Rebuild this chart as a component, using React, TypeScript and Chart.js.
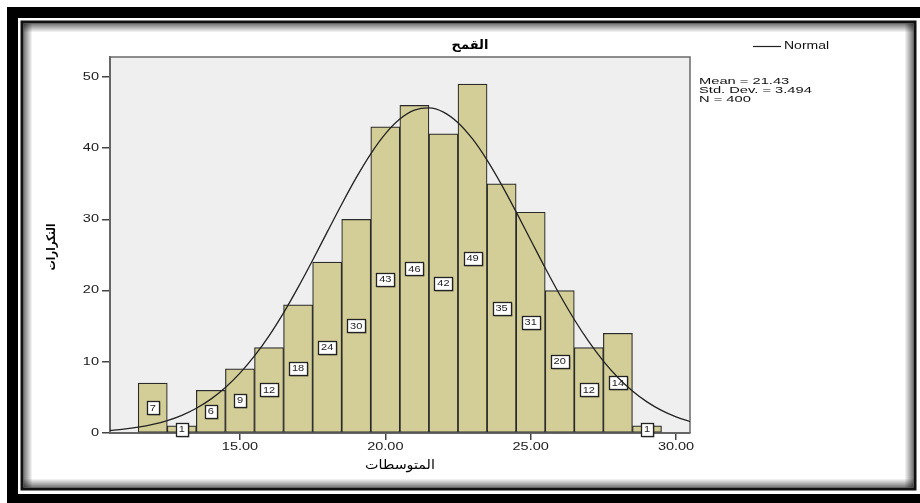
import React, { useEffect, useRef } from 'react';
import { Chart, registerables } from 'chart.js';

Chart.register(...registerables);

// ---- data ----
const binCenters = [12, 13, 14, 15, 16, 17, 18, 19, 20, 21, 22, 23, 24, 25, 26, 27, 28, 29];
const frequencies = [7, 1, 6, 9, 12, 18, 24, 30, 43, 46, 42, 49, 35, 31, 20, 12, 14, 1];
const curveX = [
  10.5, 11, 11.5, 12, 12.5, 13, 13.5, 14, 14.5, 15, 15.5, 16, 16.5, 17, 17.5, 18, 18.5, 19, 19.5, 20, 20.5,
  21, 21.5, 22, 22.5, 23, 23.5, 24, 24.5, 25, 25.5, 26, 26.5, 27, 27.5, 28, 28.5, 29, 29.5, 30, 30.5,
];
const curveY = [
  0.34, 0.53, 0.81, 1.2, 1.74, 2.48, 3.48, 4.76, 6.39, 8.4, 10.82, 13.65, 16.88, 20.45, 24.26, 28.21, 32.13,
  35.86, 39.21, 42.0, 44.08, 45.33, 45.66, 45.07, 43.58, 41.29, 38.32, 34.85, 31.05, 27.1, 23.17, 19.41,
  15.94, 12.82, 10.1, 7.8, 5.9, 4.37, 3.17, 2.26, 1.57,
];
const xTickValues = [15, 20, 25, 30];
const yTickValues = [0, 10, 20, 30, 40, 50];
const chartTitle = 'القمح';
const xAxisTitle = 'المتوسطات';
const yAxisTitle = 'التكرارات';
const legendLabel = 'Normal';
const statsLines = ['Mean = 21.43', 'Std. Dev. = 3.494', 'N = 400'];

const X_MIN = 10.53;
const X_MAX = 30.48;
const Y_MIN = 0;
const Y_MAX = 52.8;

const LATIN = '"Liberation Sans", Arial, sans-serif';
const ARABIC = '"DejaVu Sans", sans-serif';

function sText(
  ctx: CanvasRenderingContext2D,
  text: string,
  x: number,
  y: number,
  font: string,
  align: CanvasTextAlign,
  sx: number,
  color = '#222',
  rot = 0
) {
  ctx.save();
  ctx.font = font;
  ctx.fillStyle = color;
  ctx.textBaseline = 'middle';
  ctx.textAlign = align;
  ctx.translate(x, y);
  if (rot) ctx.rotate(rot);
  ctx.scale(sx, 1);
  ctx.fillText(text, 0, 0);
  ctx.restore();
}

const framePlugin = {
  id: 'frame',
  beforeDraw(chart: any) {
    const ctx: CanvasRenderingContext2D = chart.ctx;
    const W = chart.width;
    const H = chart.height;
    ctx.save();
    ctx.fillStyle = '#ffffff';
    ctx.fillRect(0, 0, W, H);
    // outer black band
    ctx.fillStyle = '#000';
    ctx.fillRect(7, 7, W - 7, 11);
    ctx.fillRect(7, 7, 11, H - 7);
    ctx.fillRect(7, 494, W - 7, H - 494);
    // inner shadow
    const L = 23.5, T = 23.5, R = 913.5, B = 487.5, s = 9;
    let g = ctx.createLinearGradient(0, T, 0, T + s);
    g.addColorStop(0, 'rgba(0,0,0,0.55)');
    g.addColorStop(1, 'rgba(0,0,0,0)');
    ctx.fillStyle = g;
    ctx.fillRect(L, T, R - L, s);
    g = ctx.createLinearGradient(L, 0, L + s, 0);
    g.addColorStop(0, 'rgba(0,0,0,0.55)');
    g.addColorStop(1, 'rgba(0,0,0,0)');
    ctx.fillStyle = g;
    ctx.fillRect(L, T, s, B - T);
    g = ctx.createLinearGradient(R, 0, R - s, 0);
    g.addColorStop(0, 'rgba(0,0,0,0.55)');
    g.addColorStop(1, 'rgba(0,0,0,0)');
    ctx.fillStyle = g;
    ctx.fillRect(R - s, T, s, B - T);
    g = ctx.createLinearGradient(0, B, 0, B - s);
    g.addColorStop(0, 'rgba(0,0,0,0.55)');
    g.addColorStop(1, 'rgba(0,0,0,0)');
    ctx.fillStyle = g;
    ctx.fillRect(L, B - s, R - L, s);
    // inner dark line
    ctx.strokeStyle = '#111';
    ctx.lineWidth = 3;
    ctx.strokeRect(22, 22, 893, 467);
    // plot background
    const a = chart.chartArea;
    ctx.fillStyle = '#efefef';
    ctx.fillRect(a.left, a.top, a.right - a.left, a.bottom - a.top);
    ctx.restore();
  },
  beforeDatasetsDraw(chart: any) {
    const ctx: CanvasRenderingContext2D = chart.ctx;
    const a = chart.chartArea;
    ctx.save();
    ctx.strokeStyle = '#6a6a6a';
    ctx.lineWidth = 1.5;
    ctx.beginPath();
    ctx.moveTo(a.left, a.top);
    ctx.lineTo(a.right, a.top);
    ctx.lineTo(a.right, a.bottom);
    ctx.stroke();
    ctx.restore();
  },
  afterDatasetDraw(chart: any, args: any) {
    if (args.meta.type !== 'bar') return;
    const ctx: CanvasRenderingContext2D = chart.ctx;
    const ds = chart.data.datasets[args.index];
    args.meta.data.forEach((el: any, i: number) => {
      const { x, y, base } = el.getProps(['x', 'y', 'base'], true);
      const cy = (y + base) / 2;
      const txt = String(ds.data[i].y);
      ctx.save();
      ctx.font = `8.5px ${LATIN}`;
      const tw = ctx.measureText(txt).width * 1.3;
      const w = Math.round(tw + 6);
      const h = 13;
      const bx = Math.round(x - w / 2) + 0.5;
      const by = Math.round(cy - h / 2) + 0.5;
      ctx.fillStyle = 'rgba(0,0,0,0.3)';
      ctx.fillRect(bx + 1, by + 1, w, h);
      ctx.fillStyle = '#ffffff';
      ctx.fillRect(bx, by, w, h);
      ctx.strokeStyle = '#222';
      ctx.lineWidth = 1.3;
      ctx.strokeRect(bx, by, w, h);
      ctx.restore();
      sText(ctx, txt, x, cy + 0.5, `8.5px ${LATIN}`, 'center', 1.3, '#222');
    });
  },
  afterDraw(chart: any) {
    const ctx: CanvasRenderingContext2D = chart.ctx;
    const xs = chart.scales.x;
    const ys = chart.scales.y;
    // tick labels
    ys.ticks.forEach((t: any) => {
      sText(ctx, String(t.value), 99, ys.getPixelForValue(t.value), `10px ${LATIN}`, 'right', 1.45, '#1a1a1a');
    });
    xs.ticks.forEach((t: any) => {
      sText(ctx, t.value.toFixed(2), xs.getPixelForValue(t.value), 447, `10px ${LATIN}`, 'center', 1.45, '#1a1a1a');
    });
    // titles
    sText(ctx, chartTitle, 470, 46, `bold 13px ${ARABIC}`, 'center', 1, '#000');
    sText(ctx, xAxisTitle, 400, 466, `13px ${ARABIC}`, 'center', 1.1, '#000');
    sText(ctx, yAxisTitle, 52, 247, `bold 12px ${ARABIC}`, 'center', 0.85, '#000', -Math.PI / 2);
    // legend
    ctx.save();
    ctx.strokeStyle = '#222';
    ctx.lineWidth = 1.2;
    ctx.beginPath();
    ctx.moveTo(753, 46.5);
    ctx.lineTo(781, 46.5);
    ctx.stroke();
    ctx.restore();
    sText(ctx, legendLabel, 784, 46, `10px ${LATIN}`, 'left', 1.4, '#111');
    statsLines.forEach((line, i) => {
      sText(ctx, line, 699, 81.5 + i * 8.7, `9.8px ${LATIN}`, 'left', 1.5, '#111');
    });
  },
};

export default function App() {
  const ref = useRef<HTMLCanvasElement | null>(null);
  useEffect(() => {
    document.body.style.margin = '0';
    const canvas = ref.current!;
    const chart = new Chart(canvas, {
      type: 'bar',
      data: {
        datasets: [
          {
            type: 'line',
            label: legendLabel,
            data: curveX.map((x, i) => ({ x, y: curveY[i] })),
            borderColor: '#222',
            borderWidth: 1.3,
            pointRadius: 0,
            fill: false,
            cubicInterpolationMode: 'monotone',
            order: 0,
          } as any,
          {
            type: 'bar',
            label: 'freq',
            data: binCenters.map((x, i) => ({ x, y: frequencies[i] })),
            backgroundColor: '#d3ce98',
            borderColor: '#2a2a2a',
            borderWidth: 1.2,
            borderSkipped: false,
            barPercentage: 1,
            categoryPercentage: 1,
            order: 1,
          } as any,
        ],
      },
      options: {
        responsive: false,
        animation: false,
        devicePixelRatio: 1,
        layout: { padding: { left: 0, top: 57, right: 230, bottom: 0 } },
        plugins: {
          legend: { display: false },
          tooltip: { enabled: false },
          title: { display: false },
        },
        scales: {
          x: {
            type: 'linear',
            min: X_MIN,
            max: X_MAX,
            offset: false,
            grid: {
              display: true,
              offset: false,
              drawOnChartArea: false,
              drawTicks: true,
              tickLength: 7,
              color: '#444',
              lineWidth: 1.5,
            },
            border: { display: true, color: '#666', width: 2 },
            ticks: { display: false },
            afterBuildTicks: (s: any) => {
              s.ticks = xTickValues.map((v) => ({ value: v }));
            },
            afterFit: (s: any) => {
              s.height = 70;
            },
          },
          y: {
            type: 'linear',
            min: Y_MIN,
            max: Y_MAX,
            grid: {
              display: true,
              offset: false,
              drawOnChartArea: false,
              drawTicks: true,
              tickLength: 8,
              color: '#444',
              lineWidth: 1.5,
            },
            border: { display: true, color: '#666', width: 2 },
            ticks: { display: false },
            afterBuildTicks: (s: any) => {
              s.ticks = yTickValues.map((v) => ({ value: v }));
            },
            afterFit: (s: any) => {
              s.width = 110;
            },
          },
        },
      } as any,
      plugins: [framePlugin],
    });
    return () => chart.destroy();
  }, []);
  return (
    <canvas ref={ref} width={920} height={503} style={{ display: 'block', width: 920, height: 503 }} />
  );
}
